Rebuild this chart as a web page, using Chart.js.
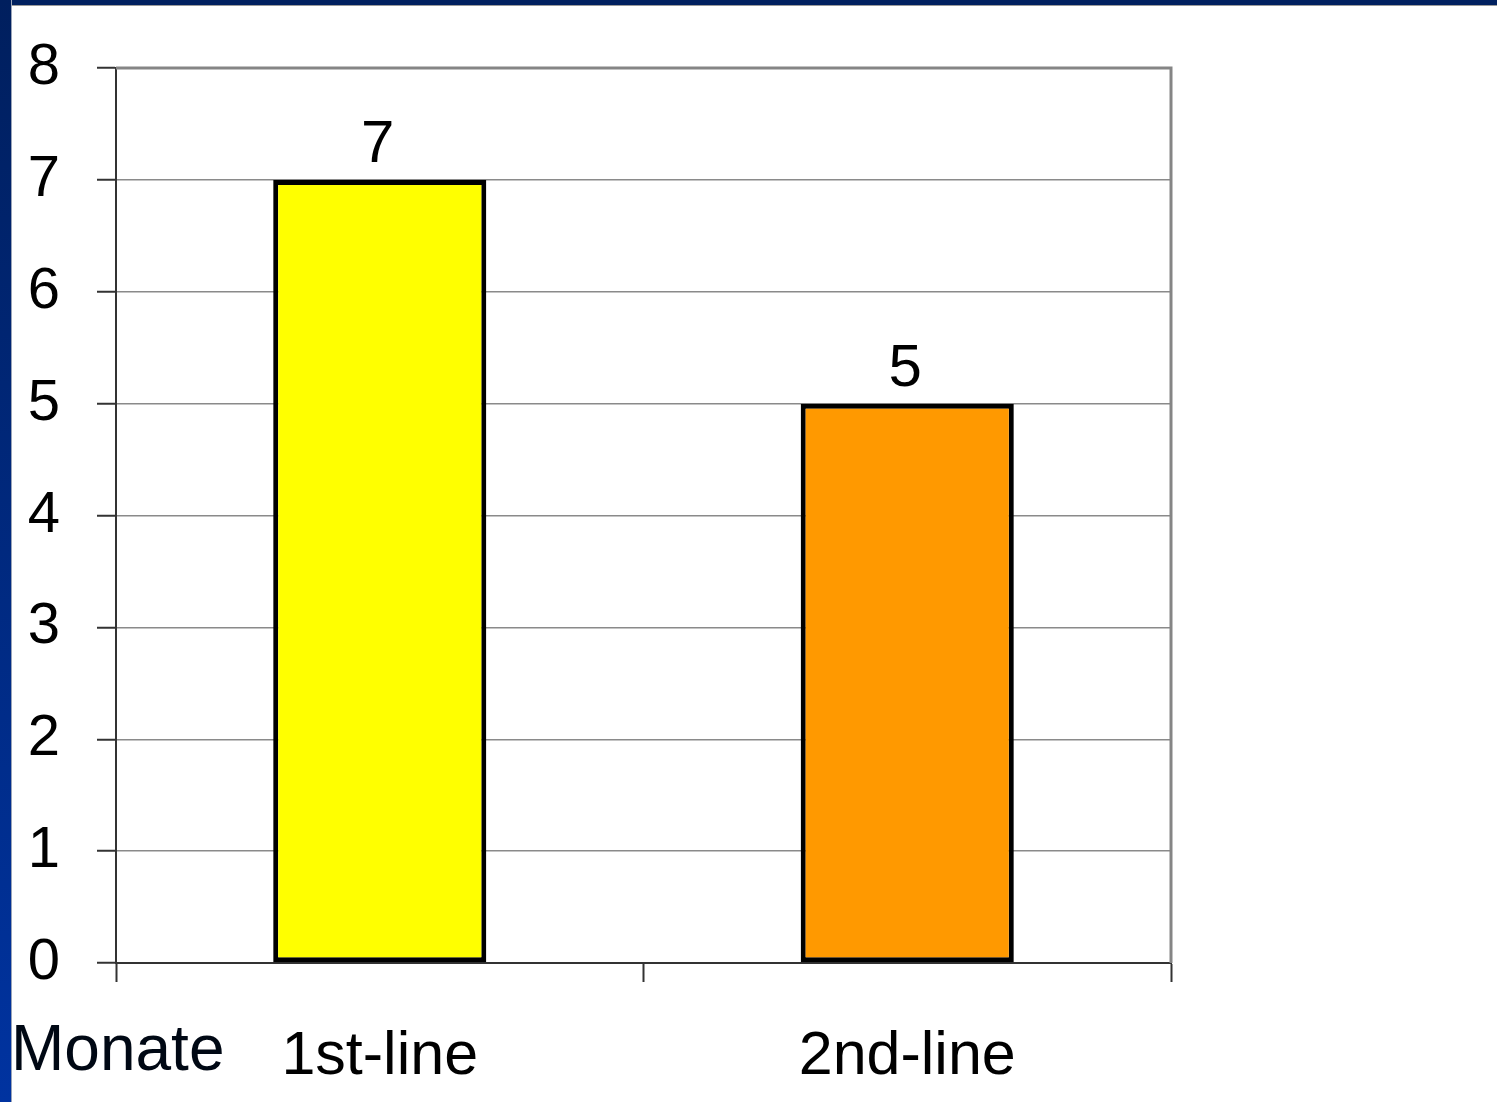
<!DOCTYPE html>
<html>
<head>
<meta charset="utf-8">
<script src="https://cdn.jsdelivr.net/npm/chart.js@4.4.1/dist/chart.umd.min.js"></script>
<style>
  html, body { margin:0; padding:0; background:#fff; overflow:hidden; }
  #wrap { position:relative; width:1497px; height:1102px; }
  #myChart { position:absolute; left:0; top:0; }
  #leftBar { position:absolute; left:0; top:0; width:11px; height:1102px;
    background:linear-gradient(#001f5e, #0033a0); border-right:1px solid #9aa4b8; }
  #topBar { position:absolute; left:0; top:0; width:1497px; height:5px;
    background:#00205f; border-bottom:1px solid #9a9a9a; }
</style>
</head>
<body>
<div id="wrap">
  <canvas id="myChart" width="1497" height="1102"></canvas>
  <div id="topBar"></div>
  <div id="leftBar"></div>
</div>
<script>

const categories = ['1st-line', '2nd-line']
const months = [7, 5]
const barColors = ['#ffff00', '#ff9900']
const axisTitle = 'Monate'
const yMin = 0
const yMax = 8


// frame (gray top/right), data labels and the "Monate" text
const extras = {
  id:'extras',
  afterDatasetsDraw(chart){
    const ctx = chart.ctx
    const a = chart.chartArea
    ctx.save()
    ctx.strokeStyle = '#858585'
    ctx.lineWidth = 3
    ctx.beginPath()
    ctx.moveTo(a.left, a.top)
    ctx.lineTo(a.right, a.top)
    ctx.lineTo(a.right, a.bottom)
    ctx.stroke()

    ctx.fillStyle = '#000'
    ctx.font = '60px "Liberation Sans", Arial, sans-serif'
    ctx.textAlign = 'center'
    ctx.textBaseline = 'bottom'
    chart.getDatasetMeta(0).data.forEach((bar, i) => {
      ctx.fillText(String(months[i]), bar.x - 2, bar.y - 4)
    })

    ctx.textAlign = 'left'
    ctx.textBaseline = 'middle'
    ctx.font = '64px "Liberation Sans", Arial, sans-serif'
    ctx.fillStyle = '#000814'
    ctx.fillText(axisTitle, 11, 1052)
    ctx.restore()
  }
}


new Chart(
  document.getElementById('myChart'),
  {
    type:'bar',
    data:{
      labels:categories,
      datasets:[
        {
          label:'Monate',
          data:months,
          backgroundColor:barColors,
          borderColor:'#000',
          borderWidth:5,
          borderSkipped:false,
          categoryPercentage:1.0,
          barPercentage:0.404
        }
      ]
    },
    options:{
      responsive:false,
      animation:false,
      layout:{
        autoPadding:false,
        padding:{ left:0, top:68, right:326, bottom:0 }
      },
      plugins:{
        legend:{ display:false },
        tooltip:{ enabled:false },
        title:{ display:false }
      },
      scales:{
        x:{
          grid:{
            offset:true,
            drawOnChartArea:false,
            tickLength:19,
            tickColor:'#333',
            tickWidth:2
          },
          border:{ color:'#333', width:2 },
          ticks:{
            color:'#000',
            padding:39,
            font:{ family:'"Liberation Sans", Arial, sans-serif', size:61 }
          },
          afterFit(scale){ scale.height = 139 }
        },
        y:{
          min:yMin,
          max:yMax,
          grid:{
            color:'#8a8a8a',
            lineWidth:1.5,
            tickLength:19,
            tickColor:'#333',
            tickWidth:2
          },
          border:{ color:'#333', width:2 },
          ticks:{
            stepSize:1,
            color:'#000',
            padding:37,
            font:{ family:'"Liberation Sans", Arial, sans-serif', size:58 }
          },
          afterFit(scale){
            scale.width = 116
            scale.paddingTop = 0
            scale.paddingBottom = 0
          }
        }
      }
    },
    plugins:[extras]
  }
)

</script>
</body>
</html>
